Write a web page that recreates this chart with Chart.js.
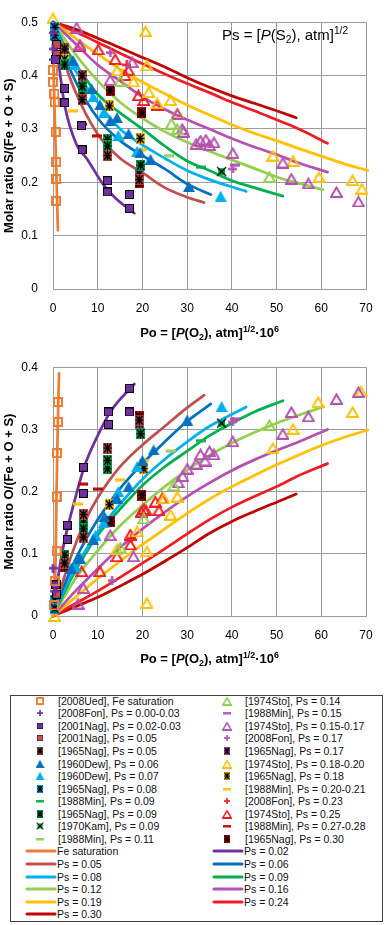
<!DOCTYPE html>
<html>
<head>
<meta charset="utf-8">
<script src="https://cdn.jsdelivr.net/npm/chart.js@4.4.1/dist/chart.umd.min.js"></script>
<style>
body{margin:0;background:#fff;width:388px;height:925px;position:relative;overflow:hidden;font-family:"Liberation Sans",Arial,sans-serif}
#c1{position:absolute;left:0;top:0}
#c2{position:absolute;left:0;top:345px}
#legend{position:absolute;left:10px;top:695px;width:373px;height:227px;border:1px solid #404040;box-sizing:border-box}
.lt{position:absolute;font-size:10.5px;line-height:12px;color:#111;white-space:nowrap}
.ic{position:absolute}
</style>
</head>
<body>
<canvas id="c1" width="388" height="345"></canvas>
<canvas id="c2" width="388" height="335"></canvas>
<div id="legend"></div>
<script>
// model curves: S ratio (top chart) and O ratio (bottom chart) vs Po
var fe_S   = [[0,0.49],[0.15,0.4],[0.5,0.29],[0.8,0.2],[1.1,0.11]];
var fe_O   = [[0.3,0],[0.6,0.1],[0.8,0.2],[1.05,0.3],[1.35,0.39]];
var ps02_S = [[0,0.5],[1,0.44],[2.6,0.345],[5.3,0.27],[7.5,0.245],[11.3,0.195],[14,0.17],[18.2,0.142]];
var ps02_O = [[0,0],[1,0.055],[2,0.1],[3.2,0.14],[5,0.19],[7,0.24],[10,0.29],[13,0.33],[18.2,0.373]];
var ps05_S = [[0,0.5],[2,0.44],[5,0.37],[10,0.29],[15,0.245],[20,0.218],[25,0.19],[30,0.172],[33.8,0.162]];
var ps05_O = [[0,0],[2,0.05],[4,0.095],[7,0.15],[10,0.19],[15,0.24],[20,0.275],[25,0.305],[30,0.335],[33.8,0.355]];
var ps06_S = [[0,0.5],[2,0.45],[5,0.39],[10,0.32],[15,0.278],[20,0.25],[25,0.225],[30,0.197],[35.3,0.177]];
var ps06_O = [[0,0],[2,0.04],[4,0.075],[6,0.105],[10,0.155],[15,0.205],[20,0.245],[25,0.28],[30,0.313],[35.3,0.341]];
var ps08_S = [[0,0.5],[2,0.46],[5,0.41],[10,0.35],[15,0.3],[20,0.27],[25,0.245],[30,0.222],[35,0.205],[43.2,0.183]];
var ps08_O = [[0,0],[3,0.05],[6,0.09],[10,0.135],[15,0.18],[20,0.22],[25,0.252],[30,0.28],[35,0.305],[43.2,0.336]];
var ps09_S = [[0,0.5],[3,0.45],[6,0.41],[10,0.365],[15,0.33],[20,0.3],[25,0.268],[30,0.24],[35,0.222],[40,0.203],[45,0.19],[51.4,0.174]];
var ps09_O = [[0,0],[3,0.045],[6,0.085],[10,0.13],[15,0.172],[20,0.21],[25,0.24],[30,0.265],[35,0.29],[40,0.31],[45,0.328],[51.4,0.346]];
var ps12_S = [[0,0.5],[5,0.44],[10,0.39],[15,0.35],[20,0.32],[25,0.295],[30,0.275],[35,0.258],[40,0.242],[45,0.226],[50,0.21],[55,0.198],[60.4,0.186]];
var ps12_O = [[0,0],[5,0.06],[10,0.105],[15,0.145],[20,0.178],[25,0.208],[30,0.235],[35,0.258],[40,0.278],[45,0.295],[50,0.31],[55,0.323],[60.4,0.336]];
var ps16_S = [[0,0.5],[5,0.46],[10,0.42],[15,0.39],[20,0.36],[25,0.337],[30,0.317],[35,0.3],[40,0.282],[45,0.266],[50,0.252],[55,0.236],[61.4,0.219]];
var ps16_O = [[0,0],[5,0.04],[10,0.076],[15,0.11],[20,0.14],[25,0.167],[30,0.192],[35,0.214],[40,0.234],[45,0.251],[50,0.266],[55,0.28],[61.4,0.3]];
var ps19_S = [[0,0.5],[5,0.47],[10,0.44],[15,0.412],[20,0.388],[25,0.366],[30,0.345],[35,0.326],[40,0.308],[45,0.292],[50,0.278],[55,0.263],[60,0.249],[65,0.235],[70.4,0.222]];
var ps19_O = [[0,0],[5,0.03],[10,0.06],[15,0.088],[20,0.115],[25,0.14],[30,0.165],[35,0.188],[40,0.208],[45,0.226],[50,0.243],[55,0.259],[60,0.274],[65,0.287],[70.4,0.299]];
var ps24_S = [[0,0.5],[5,0.482],[10,0.462],[15,0.442],[20,0.422],[25,0.403],[30,0.385],[35,0.368],[40,0.35],[45,0.334],[50,0.317],[55,0.3],[61.4,0.273]];
var ps24_O = [[0,0],[5,0.02],[10,0.04],[15,0.062],[20,0.085],[25,0.108],[30,0.132],[35,0.155],[40,0.175],[45,0.192],[50,0.208],[55,0.226],[61.4,0.245]];
var ps30_S = [[0,0.5],[5,0.487],[10,0.47],[15,0.452],[20,0.434],[25,0.416],[30,0.396],[35,0.378],[40,0.362],[45,0.348],[50,0.334],[54.4,0.321]];
var ps30_O = [[0,0],[5,0.015],[10,0.03],[15,0.048],[20,0.067],[25,0.088],[30,0.11],[35,0.133],[40,0.152],[45,0.168],[50,0.183],[54.4,0.196]];

// experimental points
var ued_S    = [[0,0.41],[0,0.387],[0.3,0.366],[0.4,0.35],[0.6,0.294],[0.7,0.238],[0.7,0.206],[0.7,0.165]];
var ued_O    = [[1.1,0.344],[1.1,0.312],[0.9,0.262],[0.8,0.192],[0.8,0.104],[0.4,0.056],[0.2,0.017]];
var fon003_S = [[0,0.48],[0,0.45],[0.2,0.43]];
var fon003_O = [[0,0.077],[0.4,0.04]];
var nag0203_S = [[0.6,0.43],[2.6,0.376],[2.6,0.349],[6.4,0.306],[6.5,0.261],[12.2,0.203],[12.2,0.182],[17.1,0.177],[17.1,0.151]];
var nag0203_O = [[0.6,0.05],[3.2,0.146],[3.2,0.123],[6.8,0.239],[6.8,0.197],[12.4,0.328],[12.4,0.308],[17.1,0.328],[17.1,0.366]];
var nag05_S  = [[0.8,0.458],[0.8,0.44]];
var nag05_O  = [[0.8,0.035],[0.8,0.05]];
var n65_05_S = [[2.6,0.45],[6.5,0.4],[6.5,0.355],[12.2,0.25],[19.3,0.205]];
var n65_05_O = [[2.6,0.085],[6.8,0.127],[6.8,0.163],[12.2,0.27],[19.3,0.315]];
var dew06_S  = [[4.5,0.428],[8.6,0.375],[10.5,0.345],[12.8,0.315],[14.3,0.321],[16.9,0.291],[19.5,0.255],[21.8,0.243],[30.4,0.192]];
var dew06_O  = [[4.1,0.077],[6,0.093],[9,0.123],[11.5,0.16],[14.3,0.189],[16.9,0.208],[20,0.25],[22.5,0.267],[30,0.315]];
var dew07_S  = [[4.9,0.42],[9,0.36],[11.3,0.33],[14.6,0.288],[18.8,0.258],[37.5,0.174]];
var dew07_O  = [[4.9,0.08],[9.5,0.13],[11.3,0.15],[14.6,0.2],[18.8,0.24],[37.7,0.337]];
var n65_08_S = [[0.4,0.49],[0.4,0.475]];
var n65_08_O = [[0.4,0.025],[0.4,0.012]];
var min09_S  = [[33,0.228]];
var min09_O  = [[33,0.282]];
var n65_09_S = [[2.6,0.42],[6.5,0.37],[6.5,0.38],[12.2,0.28],[12.2,0.268],[19.6,0.232]];
var n65_09_O = [[2.6,0.098],[6.8,0.15],[6.8,0.14],[12.2,0.237],[12.2,0.25],[19.6,0.293]];
var kam09_S  = [[37.7,0.22]];
var kam09_O  = [[37.7,0.31]];
var min11_S  = [[25.9,0.25]];
var min11_O  = [[26.3,0.265]];
var sto14_S  = [[15,0.39],[26.5,0.31],[27.8,0.3],[48.4,0.21]];
var sto14_O  = [[15,0.11],[20.3,0.157],[27,0.21],[48.4,0.307]];
var min15_S  = [[40.8,0.232]];
var min15_O  = [[40.8,0.317]];
var sto15_S  = [[5.3,0.49],[6,0.458],[12.8,0.392],[17.7,0.425],[27.8,0.328],[28.9,0.3],[29.2,0.295],[32,0.272],[33,0.278],[34.2,0.28],[35,0.27],[36,0.275],[40.2,0.255],[51.4,0.237],[53.3,0.207],[57.1,0.198],[63.4,0.182],[68.3,0.164]];
var sto15_O  = [[5.6,0.02],[6.8,0.045],[12.8,0.13],[18,0.096],[28,0.215],[29,0.225],[30,0.237],[32,0.245],[33,0.26],[34,0.25],[35,0.265],[36,0.26],[40.2,0.281],[51.4,0.293],[53.3,0.328],[57.1,0.321],[63.4,0.349],[68.3,0.36]];
var fon17_S  = [[12.8,0.443],[40.2,0.225]];
var fon17_O  = [[13.2,0.057],[40.2,0.312]];
var n65_17_S = [[19.3,0.215]];
var n65_17_O = [[19.3,0.31]];
var sto18_S  = [[0,0.507],[14.3,0.41],[18,0.389],[20.7,0.483],[21,0.419],[21.4,0.369],[23.3,0.348],[26.3,0.354],[27.8,0.33],[49.2,0.25],[53.7,0.24],[59.5,0.21],[67,0.204],[69.1,0.188]];
var sto18_O  = [[0.4,0],[14.3,0.107],[18.8,0.136],[21,0.021],[21,0.104],[24.8,0.189],[26.3,0.163],[27.8,0.192],[49.2,0.27],[53.7,0.301],[59.3,0.344],[67,0.328],[68.9,0.361]];
var n65_18_S = [[2.6,0.43],[12.6,0.343],[19.5,0.282]];
var n65_18_O = [[2.6,0.09],[12.6,0.179],[20.3,0.237]];
var min20_S  = [[4.5,0.334],[15,0.282],[19.9,0.261]];
var min20_O  = [[5.6,0.18],[15,0.219],[20.3,0.25]];
var fon23_S  = [[16.5,0.42]];
var fon23_O  = [[17.5,0.125]];
var sto25_S  = [[6,0.455],[10.1,0.449],[13.9,0.431],[16.1,0.401],[16.9,0.41],[19.1,0.363],[20.3,0.354],[23.3,0.345]];
var sto25_O  = [[6.4,0.072],[10.5,0.072],[14.3,0.096],[17.3,0.115],[17.3,0.131],[19.8,0.168],[20.3,0.172],[20.8,0.17],[22.9,0.184],[23.7,0.17],[24.4,0.189]];
var min27_S  = [[6.4,0.309],[9.8,0.287]];
var min27_O  = [[6.8,0.212],[10.1,0.204]];
var n65_30_S = [[2.6,0.44],[12.8,0.372],[19.9,0.33],[19.3,0.2]];
var n65_30_O = [[2.6,0.08],[12.9,0.152],[19.9,0.194],[19.3,0.32]];

var FONT = '"Liberation Sans", Arial, sans-serif';
var GRID = '#9c9c9c';
var col = {fe:'#ED7D31', p02:'#7030A0', p05:'#C0504D', p06:'#0070C0', p08:'#00B0F0', p09:'#00B050',
           p12:'#92D050', p16:'#B651B3', p19:'#FFC000', p24:'#EE1D23', p30:'#C00000'};

// marker pictures
function mk(w, h, fn) { var c = document.createElement('canvas'); c.width = w; c.height = h; fn(c.getContext('2d')); return c; }
function openSq(c) { return mk(10,10,function(g){ g.strokeStyle=c; g.lineWidth=2; g.strokeRect(1,1,8,8); }); }
function fillSq(c) { return mk(9,9,function(g){ g.fillStyle=c; g.fillRect(0.5,0.5,8,8); g.strokeStyle='#000'; g.lineWidth=1; g.strokeRect(0.5,0.5,8,8); }); }
function nagSq(c) { return mk(9,11,function(g){ g.fillStyle=c; g.fillRect(0,0,9,11); g.strokeStyle='#000'; g.lineWidth=1.4; g.beginPath();
  g.moveTo(4.5,0.5); g.lineTo(4.5,10.5); g.moveTo(0.5,5.5); g.lineTo(8.5,5.5); g.moveTo(1,1); g.lineTo(8,10); g.moveTo(8,1); g.lineTo(1,10); g.stroke(); }); }
function kamX(c) { return mk(11,11,function(g){ g.fillStyle=c; g.fillRect(2,2,7,7); g.strokeStyle='#000'; g.lineWidth=1.3; g.beginPath();
  g.moveTo(1,1); g.lineTo(10,10); g.moveTo(10,1); g.lineTo(1,10); g.stroke(); }); }
function triF(c) { return mk(12,11,function(g){ g.fillStyle=c; g.beginPath(); g.moveTo(6,0); g.lineTo(12,11); g.lineTo(0,11); g.closePath(); g.fill(); }); }
function triO(c) { return mk(13,12,function(g){ g.strokeStyle=c; g.lineWidth=2; g.beginPath(); g.moveTo(6.5,1.5); g.lineTo(12,11); g.lineTo(1,11); g.closePath(); g.stroke(); }); }
function plus(c) { return mk(9,9,function(g){ g.fillStyle=c; g.fillRect(3.3,0,2.5,9); g.fillRect(0,3.3,9,2.5); }); }
function dash(c) { return mk(10,4,function(g){ g.fillStyle=c; g.fillRect(0,0.5,10,3); }); }

var markers = [
  ['[2008Ued], Fe saturation', openSq(col.fe), ued_S, ued_O],
  ['[2008Fon], Ps = 0.00-0.03', plus(col.p02), fon003_S, fon003_O],
  ['[2001Nag], Ps = 0.02-0.03', fillSq(col.p02), nag0203_S, nag0203_O],
  ['[2001Nag], Ps = 0.05', fillSq(col.p05), nag05_S, nag05_O],
  ['[1965Nag], Ps = 0.05', nagSq(col.p05), n65_05_S, n65_05_O],
  ['[1960Dew], Ps = 0.06', triF(col.p06), dew06_S, dew06_O],
  ['[1960Dew], Ps = 0.07', triF(col.p08), dew07_S, dew07_O],
  ['[1965Nag], Ps = 0.08', nagSq(col.p08), n65_08_S, n65_08_O],
  ['[1988Min], Ps = 0.09', dash(col.p09), min09_S, min09_O],
  ['[1965Nag], Ps = 0.09', nagSq(col.p09), n65_09_S, n65_09_O],
  ['[1970Kam], Ps = 0.09', kamX(col.p09), kam09_S, kam09_O],
  ['[1988Min], Ps = 0.11', dash(col.p12), min11_S, min11_O],
  ['[1974Sto], Ps = 0.14', triO(col.p12), sto14_S, sto14_O],
  ['[1988Min], Ps = 0.15', dash(col.p16), min15_S, min15_O],
  ['[1974Sto], Ps = 0.15-0.17', triO(col.p16), sto15_S, sto15_O],
  ['[2008Fon], Ps = 0.17', plus(col.p16), fon17_S, fon17_O],
  ['[1965Nag], Ps = 0.17', nagSq(col.p16), n65_17_S, n65_17_O],
  ['[1974Sto], Ps = 0.18-0.20', triO(col.p19), sto18_S, sto18_O],
  ['[1965Nag], Ps = 0.18', nagSq(col.p19), n65_18_S, n65_18_O],
  ['[1988Min], Ps = 0.20-0.21', dash(col.p19), min20_S, min20_O],
  ['[2008Fon], Ps = 0.23', plus(col.p24), fon23_S, fon23_O],
  ['[1974Sto], Ps = 0.25', triO(col.p24), sto25_S, sto25_O],
  ['[1988Min], Ps = 0.27-0.28', dash(col.p30), min27_S, min27_O],
  ['[1965Nag], Ps = 0.30', nagSq(col.p30), n65_30_S, n65_30_O]
];
var curves = [
  ['Fe saturation', col.fe, fe_S, fe_O],
  ['Ps = 0.02', col.p02, ps02_S, ps02_O],
  ['Ps = 0.05', col.p05, ps05_S, ps05_O],
  ['Ps = 0.06', col.p06, ps06_S, ps06_O],
  ['Ps = 0.08', col.p08, ps08_S, ps08_O],
  ['Ps = 0.09', col.p09, ps09_S, ps09_O],
  ['Ps = 0.12', col.p12, ps12_S, ps12_O],
  ['Ps = 0.16', col.p16, ps16_S, ps16_O],
  ['Ps = 0.19', col.p19, ps19_S, ps19_O],
  ['Ps = 0.24', col.p24, ps24_S, ps24_O],
  ['Ps = 0.30', col.p30, ps30_S, ps30_O]
];

function pts(a) { return a.map(function(p){ return {x:p[0], y:p[1]}; }); }

function buildSets(k) {
  var sets = [];
  markers.forEach(function(m){
    sets.push({label:m[0], data:pts(m[k]), pointStyle:m[1], pointRadius:5, showLine:false, clip:false});
  });
  curves.forEach(function(c, i){
    sets.push({label:c[0], data:pts(c[k]), showLine:true, borderColor:c[1], borderWidth:2.75, pointRadius:0,
      borderCapStyle:'round', clip:false, tension:0, cubicInterpolationMode: i == 0 ? 'default' : 'monotone'});
  });
  return sets;
}

// mixed style text (italic, sub, sup)
function rich(ctx, segs, x, y, size, bold, center) {
  var parts = [], w = 0;
  segs.forEach(function(s){
    var small = s[1] == 'sub' || s[1] == 'sup';
    var f = (s[1] == 'i' ? 'italic ' : '') + (bold ? 'bold ' : '') + (small ? size*0.68 : size) + 'px ' + FONT;
    ctx.font = f;
    var tw = ctx.measureText(s[0]).width;
    parts.push({t:s[0], f:f, w:tw, dy: s[1] == 'sub' ? size*0.22 : (s[1] == 'sup' ? -size*0.4 : 0)});
    w += tw;
  });
  var cx = center ? x - w/2 : x;
  parts.forEach(function(p){ ctx.font = p.f; ctx.fillText(p.t, cx, y + p.dy); cx += p.w; });
}

var textPlugin = {
  id: 'texts',
  afterDraw: function(chart, args, o) {
    var ctx = chart.ctx, a = chart.chartArea;
    ctx.save();
    ctx.fillStyle = '#000'; ctx.textAlign = 'left'; ctx.textBaseline = 'alphabetic';
    rich(ctx, [['Po = [','n'],['P','i'],['(O','n'],['2','sub'],['), atm]','n'],['1/2','sup'],['\u00b710','n'],['6','sup']],
      (a.left + a.right)/2, o.titleY, 13, true, true);
    if (o.note) {
      rich(ctx, [['Ps = [','n'],['P','i'],['(S','n'],['2','sub'],['), atm]','n'],['1/2','sup']], 222, 40, 15, false, false);
    }
    ctx.restore();
  }
};

function makeOpts(ymax, ytitle, padTop, xh, titleY, note) {
  return {
    responsive: false,
    animation: false,
    layout: {padding: {top: padTop, right: 22, left: 0, bottom: 0}},
    plugins: {legend: {display: false}, tooltip: {enabled: false}, texts: {titleY: titleY, note: note}},
    scales: {
      x: {type: 'linear', min: 0, max: 70,
        ticks: {stepSize: 10, padding: 12, color: '#000', font: {size: 12, family: FONT}},
        grid: {color: GRID, drawTicks: false}, border: {color: GRID},
        afterFit: function(s){ s.height = xh; }},
      y: {type: 'linear', min: 0, max: ymax,
        ticks: {stepSize: 0.1, padding: 15, color: '#000', font: {size: 12, family: FONT}},
        grid: {color: GRID, drawTicks: false}, border: {color: GRID},
        title: {display: true, text: ytitle, color: '#000', font: {size: 13, weight: 'bold', family: FONT}, padding: {top: 2, bottom: 0}},
        afterFit: function(s){ s.width = 53; }}
    }
  };
}

new Chart(document.getElementById('c1'), {
  type: 'scatter',
  data: {datasets: buildSets(2)},
  options: makeOpts(0.5, 'Molar ratio S/(Fe + O + S)', 10, 56, 337, true),
  plugins: [textPlugin]
});
new Chart(document.getElementById('c2'), {
  type: 'scatter',
  data: {datasets: buildSets(3)},
  options: makeOpts(0.4, 'Molar ratio O/(Fe + O + S)', 18, 64, 318, false),
  plugins: [textPlugin]
});

// legend box
var lg = document.getElementById('legend');
function addText(t, x, cy) {
  var d = document.createElement('div'); d.className = 'lt'; d.textContent = t;
  d.style.left = x + 'px'; d.style.top = (cy - 6) + 'px'; lg.appendChild(d);
}
markers.forEach(function(m, i){
  var c2 = i < 12 ? 0 : 1, row = i % 12;
  var cy = 4.8 + row*12.55;
  var ix = c2 ? 216 : 29;
  var ic = document.createElement('canvas'); ic.className = 'ic'; ic.width = 14; ic.height = 12;
  var g = ic.getContext('2d'), s = 0.75, im = m[1];
  g.drawImage(im, 7 - im.width*s/2, 6 - im.height*s/2, im.width*s, im.height*s);
  ic.style.left = (ix - 7) + 'px'; ic.style.top = (cy - 6) + 'px'; lg.appendChild(ic);
  addText(m[0], c2 ? 234 : 47, cy);
});
curves.forEach(function(c, i){
  var c2 = i % 2, row = 12 + Math.floor(i/2);
  var cy = 4.8 + row*12.55;
  var x0 = c2 ? 201 : 14;
  var ln = document.createElement('canvas'); ln.className = 'ic'; ln.width = 32; ln.height = 6;
  var g = ln.getContext('2d'); g.strokeStyle = c[1]; g.lineWidth = 3; g.lineCap = 'round';
  g.beginPath(); g.moveTo(2, 3); g.lineTo(30, 3); g.stroke();
  ln.style.left = x0 + 'px'; ln.style.top = (cy - 3) + 'px'; lg.appendChild(ln);
  addText(c[0], c2 ? 233 : 46, cy);
});
</script>
</body>
</html>
